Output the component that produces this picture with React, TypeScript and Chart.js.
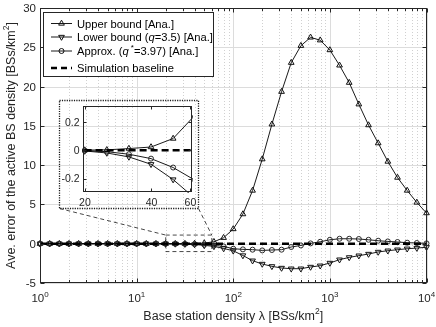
import React, { useEffect, useRef } from "react";
import { Chart, registerables } from "chart.js";

Chart.register(...registerables);

// ---------------- data ----------------
const densities = [
  1, 1.259, 1.585, 1.995, 2.512, 3.162, 3.981, 5.012, 6.31, 7.943,
  10, 12.59, 15.85, 19.95, 25.12, 31.62, 39.81, 50.12, 63.1, 79.43,
  100, 125.9, 158.5, 199.5, 251.2, 316.2, 398.1, 501.2, 631, 794.3,
  1000, 1259, 1585, 1995, 2512, 3162, 3981, 5012, 6310, 7943, 10000,
];
const upperBound = [
  0, 0, 0, 0, 0, 0, 0, 0, 0, 0,
  0, 0, 0, 0.001, 0.003, 0.012, 0.023, 0.083, 0.25, 0.76,
  1.87, 3.77, 6.77, 10.76, 15.2, 19.35, 23.04, 25.2, 26.26, 25.9,
  24.65, 22.7, 20.5, 17.75, 15.1, 12.8, 10.46, 8.42, 6.77, 5.25, 3.9,
];
const lowerBound = [
  0, 0, 0, 0, 0, 0, 0, 0, 0, 0,
  0, 0, 0, -0.005, -0.019, -0.047, -0.099, -0.207, -0.342, -0.6,
  -0.9, -1.5, -2.16, -2.58, -2.88, -3.09, -3.18, -3.18, -2.96, -2.8,
  -2.45, -2.03, -1.74, -1.52, -1.31, -1.05, -0.89, -0.76, -0.64, -0.55, -0.45,
];
const approxQ = [
  0, 0, 0, 0, 0, 0, 0, 0, 0, 0,
  0, 0, 0, -0.002, -0.01, -0.028, -0.059, -0.122, -0.213, -0.34,
  -0.64, -0.72, -0.76, -0.85, -0.8, -0.76, -0.42, -0.22, 0.04, 0.25,
  0.5, 0.63, 0.63, 0.6, 0.5, 0.38, 0.29, 0.22, 0.13, 0.09, 0.04,
];
const simBaseline = [
  0, 0, 0, 0, 0, 0, 0, 0, 0, 0,
  0, 0, 0, 0, 0, 0, 0, 0, 0, 0,
  0, 0, 0, 0, 0, 0, 0, 0, 0, 0,
  0, 0, 0, 0, 0, 0, 0, 0, 0, 0, 0,
];

const yTicks = [-5, 0, 5, 10, 15, 20, 25, 30];
const xDecades = [1, 10, 100, 1000, 10000];
const xDecadeExp = ["0", "1", "2", "3", "4"];
const xMinorMult = [2, 3, 4, 5, 6, 7, 8, 9];

const insetYTicks = [-0.2, 0, 0.2];
const insetYTickLabels = ["-0.2", "0", "0.2"];
const insetXTicks = [20, 40, 60];
const zoomX = [20, 60];
const zoomY = [-1, 1.1];

const FF = '"Liberation Sans", Arial, Helvetica, sans-serif';
const AXIS = "#262626";

// inset placement on page
const INSET = { left: 59, top: 100, w: 140, h: 109 };

type Part = { t: string; size?: number; italic?: boolean; dy?: number };

function drawRich(
  ctx: CanvasRenderingContext2D,
  parts: Part[],
  x: number,
  y: number,
  align: "left" | "center" | "right",
  baseSize: number
) {
  const fontOf = (p: Part) => `${p.italic ? "italic " : ""}${p.size ?? baseSize}px ${FF}`;
  let w = 0;
  for (const p of parts) {
    ctx.font = fontOf(p);
    w += ctx.measureText(p.t).width;
  }
  let cx = align === "center" ? x - w / 2 : align === "right" ? x - w : x;
  ctx.textAlign = "left";
  ctx.textBaseline = "alphabetic";
  for (const p of parts) {
    ctx.font = fontOf(p);
    ctx.fillText(p.t, cx, y + (p.dy || 0));
    cx += ctx.measureText(p.t).width;
  }
}

function tri(ctx: CanvasRenderingContext2D, x: number, y: number, r: number, down: boolean) {
  const s = down ? -1 : 1;
  ctx.beginPath();
  ctx.moveTo(x, y - s * r);
  ctx.lineTo(x + 0.866 * r, y + s * 0.5 * r);
  ctx.lineTo(x - 0.866 * r, y + s * 0.5 * r);
  ctx.closePath();
  ctx.stroke();
}

const MARK = "#111";
const TRI_R = 3.3;
const CIRC_R = 2.5;

function makeDatasets() {
  const pts = (arr: number[]) => densities.map((x, i) => ({ x, y: arr[i] }));
  return [
    {
      label: "Upper bound [Ana.]",
      data: pts(upperBound),
      borderColor: "#000",
      borderWidth: 0.9,
      pointStyle: "triangle",
      pointRadius: TRI_R,
      pointBorderColor: MARK,
      pointBackgroundColor: "rgba(0,0,0,0)",
      pointBorderWidth: 1,
      order: 3,
    },
    {
      label: "Lower bound",
      data: pts(lowerBound),
      borderColor: "#000",
      borderWidth: 0.9,
      pointStyle: "triangle",
      pointRotation: 180,
      pointRadius: TRI_R,
      pointBorderColor: MARK,
      pointBackgroundColor: "rgba(0,0,0,0)",
      pointBorderWidth: 1,
      order: 2,
    },
    {
      label: "Approx.",
      data: pts(approxQ),
      borderColor: "#000",
      borderWidth: 0.9,
      pointStyle: "circle",
      pointRadius: CIRC_R,
      pointBorderColor: "#2a2a2a",
      pointBackgroundColor: "rgba(0,0,0,0)",
      pointBorderWidth: 1,
      order: 1,
    },
    {
      label: "Simulation baseline",
      data: pts(simBaseline),
      borderColor: "#000",
      borderWidth: 2.4,
      borderDash: [7, 4],
      pointRadius: 0,
      order: 0,
    },
  ];
}

const mainDecor = {
  id: "mainDecor",
  beforeDatasetsDraw(chart: any) {
    const { ctx, chartArea, scales } = chart;
    const { left, right, top, bottom } = chartArea;
    const x = scales.x;
    const y = scales.y;
    ctx.save();
    // minor vertical dotted grid
    ctx.strokeStyle = "#c4c4c4";
    ctx.lineWidth = 0.8;
    ctx.setLineDash([1, 2]);
    for (let d = 0; d < xDecades.length - 1; d++) {
      for (const m of xMinorMult) {
        const px = Math.round(x.getPixelForValue(xDecades[d] * m)) + 0.5;
        ctx.beginPath();
        ctx.moveTo(px, top);
        ctx.lineTo(px, bottom);
        ctx.stroke();
      }
    }
    // major grid
    ctx.setLineDash([]);
    ctx.strokeStyle = "#dcdcdc";
    ctx.lineWidth = 1;
    for (const v of xDecades) {
      const px = Math.round(x.getPixelForValue(v)) + 0.5;
      ctx.beginPath();
      ctx.moveTo(px, top);
      ctx.lineTo(px, bottom);
      ctx.stroke();
    }
    for (const v of yTicks) {
      const py = Math.round(y.getPixelForValue(v)) + 0.5;
      ctx.beginPath();
      ctx.moveTo(left, py);
      ctx.lineTo(right, py);
      ctx.stroke();
    }
    ctx.restore();
  },
  afterDatasetsDraw(chart: any) {
    const { ctx, chartArea, scales } = chart;
    const { left, right, top, bottom } = chartArea;
    const x = scales.x;
    const y = scales.y;
    ctx.save();

    // zoom rectangle and connectors
    const zx0 = x.getPixelForValue(zoomX[0]);
    const zx1 = x.getPixelForValue(zoomX[1]);
    const zyT = y.getPixelForValue(zoomY[1]);
    const zyB = y.getPixelForValue(zoomY[0]);
    ctx.strokeStyle = "#1a1a1a";
    ctx.lineWidth = 0.8;
    ctx.setLineDash([4, 3]);
    ctx.strokeRect(zx0, zyT, zx1 - zx0, zyB - zyT);
    ctx.beginPath();
    ctx.moveTo(INSET.left + 0.5, INSET.top + INSET.h - 0.5);
    ctx.lineTo(zx0, zyT);
    ctx.moveTo(INSET.left + INSET.w - 0.5, INSET.top + INSET.h - 0.5);
    ctx.lineTo(zx1, zyT);
    ctx.stroke();
    // dotted frame around inset
    ctx.setLineDash([1.2, 1.2]);
    ctx.lineWidth = 1.3;
    ctx.strokeRect(INSET.left + 0.5, INSET.top + 0.5, INSET.w - 1, INSET.h - 1);

    // axes box
    ctx.setLineDash([]);
    ctx.strokeStyle = AXIS;
    ctx.lineWidth = 1;
    const L = Math.round(left) + 0.5;
    const R = Math.round(right) - 0.5;
    const T = Math.round(top) + 0.5;
    const B = Math.round(bottom) - 0.5;
    ctx.strokeRect(L, T, R - L, B - T);

    // ticks
    ctx.beginPath();
    for (const v of yTicks) {
      const py = Math.round(y.getPixelForValue(v)) + 0.5;
      ctx.moveTo(L, py);
      ctx.lineTo(L + 4, py);
      ctx.moveTo(R, py);
      ctx.lineTo(R - 4, py);
    }
    for (const v of xDecades) {
      const px = Math.round(x.getPixelForValue(v)) + 0.5;
      ctx.moveTo(px, B);
      ctx.lineTo(px, B - 4);
      ctx.moveTo(px, T);
      ctx.lineTo(px, T + 4);
    }
    for (let d = 0; d < xDecades.length - 1; d++) {
      for (const m of xMinorMult) {
        const px = Math.round(x.getPixelForValue(xDecades[d] * m)) + 0.5;
        ctx.moveTo(px, B);
        ctx.lineTo(px, B - 2.5);
        ctx.moveTo(px, T);
        ctx.lineTo(px, T + 2.5);
      }
    }
    ctx.stroke();

    // tick labels
    ctx.fillStyle = AXIS;
    for (const v of yTicks) {
      const py = y.getPixelForValue(v);
      drawRich(ctx, [{ t: String(v) }], left - 4, py + 4, "right", 11.5);
    }
    xDecades.forEach((v, i) => {
      const px = x.getPixelForValue(v);
      drawRich(ctx, [{ t: "10" }, { t: xDecadeExp[i], size: 8, dy: -5 }], px, 302, "center", 11.5);
    });

    // axis titles
    drawRich(
      ctx,
      [{ t: "Base station density " }, { t: "\u03bb" }, { t: " [BSs/km" }, { t: "2", size: 8.5, dy: -6 }, { t: "]" }],
      (left + right) / 2,
      319.5,
      "center",
      12.5
    );
    ctx.save();
    ctx.translate(15, (top + bottom) / 2);
    ctx.rotate(-Math.PI / 2);
    drawRich(
      ctx,
      [{ t: "Ave. error of the active BS density [BSs/km" }, { t: "2", size: 8.5, dy: -6 }, { t: "]" }],
      0,
      0,
      "center",
      12.5
    );
    ctx.restore();

    // legend
    const lx0 = 43.5, lx1 = 213.5, ly0 = 12.5, ly1 = 76.5;
    ctx.fillStyle = "#fff";
    ctx.fillRect(lx0, ly0, lx1 - lx0, ly1 - ly0);
    ctx.strokeStyle = AXIS;
    ctx.lineWidth = 1;
    ctx.strokeRect(lx0, ly0, lx1 - lx0, ly1 - ly0);
    const rows: { y: number; kind: string; parts: Part[] }[] = [
      { y: 23.5, kind: "up", parts: [{ t: "Upper bound [Ana.]" }] },
      { y: 37, kind: "down", parts: [{ t: "Lower bound (" }, { t: "q", italic: true }, { t: "=3.5) [Ana.]" }] },
      {
        y: 51,
        kind: "circ",
        parts: [{ t: "Approx. (" }, { t: "q", italic: true }, { t: " *", size: 8, dy: -5 }, { t: "=3.97) [Ana.]" }],
      },
      { y: 68, kind: "dash", parts: [{ t: "Simulation baseline" }] },
    ];
    for (const r of rows) {
      ctx.strokeStyle = "#000";
      if (r.kind === "dash") {
        ctx.lineWidth = 2.4;
        ctx.setLineDash([6, 4]);
        ctx.beginPath();
        ctx.moveTo(51, r.y);
        ctx.lineTo(72, r.y);
        ctx.stroke();
        ctx.setLineDash([]);
      } else {
        ctx.lineWidth = 0.9;
        ctx.beginPath();
        ctx.moveTo(51, r.y);
        ctx.lineTo(72, r.y);
        ctx.stroke();
        ctx.strokeStyle = MARK;
        ctx.lineWidth = 1;
        if (r.kind === "up") tri(ctx, 61.5, r.y, TRI_R, false);
        else if (r.kind === "down") tri(ctx, 61.5, r.y, TRI_R, true);
        else {
          ctx.beginPath();
          ctx.arc(61.5, r.y, CIRC_R, 0, Math.PI * 2);
          ctx.stroke();
        }
      }
      ctx.fillStyle = "#000";
      drawRich(ctx, r.parts, 77, r.y + 4, "left", 11.2);
    }
    ctx.restore();
  },
};

const insetDecor = {
  id: "insetDecor",
  afterDatasetsDraw(chart: any) {
    const { ctx, chartArea, scales } = chart;
    const { left, right, top, bottom } = chartArea;
    const x = scales.x;
    const y = scales.y;
    ctx.save();
    ctx.strokeStyle = AXIS;
    ctx.lineWidth = 1;
    const L = Math.round(left) + 0.5;
    const R = Math.round(right) - 0.5;
    const T = Math.round(top) + 0.5;
    const B = Math.round(bottom) - 0.5;
    ctx.strokeRect(L, T, R - L, B - T);
    ctx.beginPath();
    for (const v of insetYTicks) {
      const py = Math.round(y.getPixelForValue(v)) + 0.5;
      ctx.moveTo(L, py);
      ctx.lineTo(L + 3, py);
      ctx.moveTo(R, py);
      ctx.lineTo(R - 3, py);
    }
    for (const v of insetXTicks) {
      const px = Math.round(x.getPixelForValue(v)) + 0.5;
      ctx.moveTo(px, B);
      ctx.lineTo(px, B - 3);
      ctx.moveTo(px, T);
      ctx.lineTo(px, T + 3);
    }
    ctx.stroke();
    ctx.fillStyle = AXIS;
    insetYTicks.forEach((v, i) => {
      drawRich(ctx, [{ t: insetYTickLabels[i] }], left - 3.5, y.getPixelForValue(v) + 3.7, "right", 10.5);
    });
    for (const v of insetXTicks) {
      drawRich(ctx, [{ t: String(v) }], x.getPixelForValue(v), bottom + 14, "center", 10.5);
    }
    ctx.restore();
  },
};

export default function App() {
  const mainRef = useRef<HTMLCanvasElement>(null);
  const insetRef = useRef<HTMLCanvasElement>(null);

  useEffect(() => {
    const main = new Chart(mainRef.current as HTMLCanvasElement, {
      type: "line",
      data: { datasets: makeDatasets() as any },
      options: {
        animation: false,
        responsive: false,
        devicePixelRatio: 1,
        layout: { padding: { left: 40, top: 8, right: 9.5, bottom: 44 } },
        plugins: { legend: { display: false }, tooltip: { enabled: false } },
        elements: { line: { tension: 0 } },
        datasets: { line: { clip: false as any } },
        scales: {
          x: { type: "logarithmic", min: 1, max: 10000, display: false },
          y: { type: "linear", min: -5, max: 30, display: false },
        },
      } as any,
      plugins: [mainDecor],
    });
    const inset = new Chart(insetRef.current as HTMLCanvasElement, {
      type: "line",
      data: { datasets: makeDatasets().map((d) => ({ ...d, clip: 1 })) as any },
      options: {
        animation: false,
        responsive: false,
        devicePixelRatio: 1,
        layout: { padding: { left: 24, top: 6, right: 7, bottom: 17 } },
        plugins: { legend: { display: false }, tooltip: { enabled: false } },
        elements: { line: { tension: 0 } },
        scales: {
          x: { type: "logarithmic", min: 19.6, max: 61, display: false },
          y: { type: "linear", min: -0.295, max: 0.313, display: false },
        },
      } as any,
      plugins: [insetDecor],
    });
    return () => {
      main.destroy();
      inset.destroy();
    };
  }, []);

  return (
    <div style={{ position: "fixed", left: 0, top: 0, width: 436, height: 327, background: "#fff" }}>
      <canvas
        ref={mainRef}
        width={436}
        height={327}
        style={{ position: "absolute", left: 0, top: 0, width: 436, height: 327 }}
      />
      <canvas
        ref={insetRef}
        width={INSET.w}
        height={INSET.h}
        style={{ position: "absolute", left: INSET.left, top: INSET.top, width: INSET.w, height: INSET.h }}
      />
    </div>
  );
}
